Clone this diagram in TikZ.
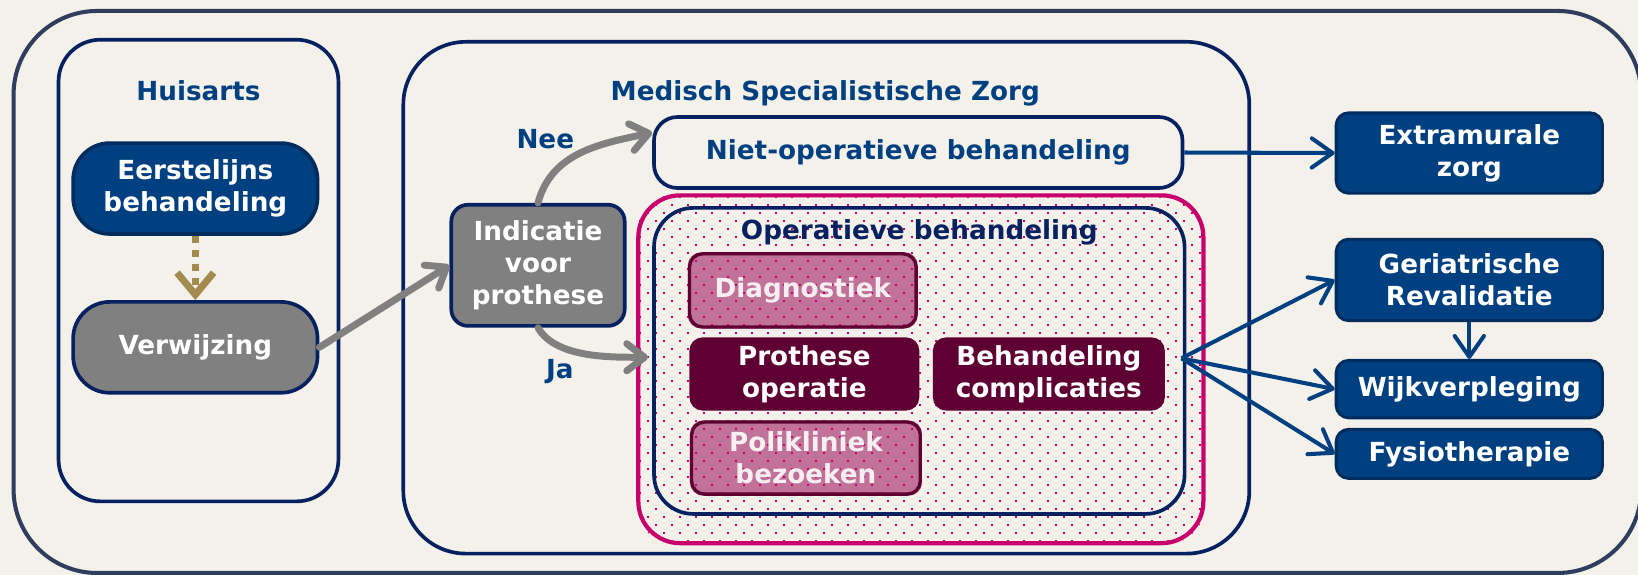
\documentclass[tikz,border=0pt]{standalone}
\usepackage{fontspec}
\setmainfont{DejaVu Sans}
\usetikzlibrary{arrows.meta,shapes}

\definecolor{cream}{RGB}{243,241,233}
\definecolor{slate}{RGB}{47,62,94}
\definecolor{framenavy}{RGB}{5,33,96}
\definecolor{boxnavy}{RGB}{0,64,128}
\definecolor{edgenavy}{RGB}{0,44,94}
\definecolor{midgray}{RGB}{128,128,128}
\definecolor{gold}{RGB}{163,139,79}
\definecolor{dotpink}{RGB}{200,0,110}
\definecolor{maroon}{RGB}{94,0,51}
\definecolor{rose}{RGB}{192,114,153}
\definecolor{offwhite}{RGB}{246,238,240}

\pgfdeclarelayer{back}
\pgfdeclarelayer{dots}
\pgfsetlayers{back,dots,main}

\tikzset{
  every node/.style={font=\fontsize{14.3}{17.5}\selectfont\bfseries,align=center},
  frame/.style={draw=framenavy,line width=2pt},
  title/.style={text=boxnavy},
  pill/.style={draw=framenavy,line width=2pt,text=white,rounded corners=0.7cm,
    minimum width=4.68cm,minimum height=1.74cm},
  navybox/.style={fill=boxnavy,draw=edgenavy,line width=1.6pt,text=white,
    rounded corners=0.24cm,minimum width=5.1cm},
  opbox/.style={rounded corners=0.25cm,minimum height=1.4cm},
  rosebox/.style={opbox,draw=maroon,line width=1.8pt,text=offwhite},
  grayarrow/.style={draw=midgray,line width=3.8pt,line cap=round,
    -{Straight Barb[length=0.34cm,width=0.52cm,round]}},
  navyarrow/.style={draw=boxnavy,line width=2.2pt,
    -{Straight Barb[length=0.4cm,width=0.56cm,round]}},
  goldarrow/.style={draw=gold,line width=3.8pt,dash pattern=on 3.8pt off 3.8pt,
    -{Straight Barb[length=0.42cm,width=0.7cm]}}
}

\begin{document}
\begin{tikzpicture}[x=0.02cm,y=0.02cm]
            \begin{pgfonlayer}{back}
              \fill[cream](0, 0) rectangle (1568, 550);
            \end{pgfonlayer}
            \useasboundingbox(0, 0) rectangle (1568, 550);
            \draw[slate,line width=2.2pt,rounded corners=1.6cm](13, 1.5) rectangle (1571, 539.5);
            % Huisarts
            \node[frame,rounded corners=0.8cm,minimum width=5.36cm,minimum height=8.84cm](Huis)at(190, 291){};
            \node[title](HuisTitle)at(190, 463){Huisarts};
            \node[pill,fill=boxnavy,draw=edgenavy](Eerst)at(187, 369.5){Eerstelijns\\behandeling};
            \node[pill,fill=midgray](Verw)at(187, 217.5){Verwijzing};
            % Medisch Specialistische Zorg
            \node[frame,rounded corners=1.2cm,minimum width=16.2cm,minimum height=9.8cm](Msz)at(791, 265){};
            \node[title](MszTitle)at(790, 461){Medisch Specialistische Zorg};
            \node[draw=framenavy,line width=2pt,fill=midgray,text=white,rounded corners=0.32cm,
              minimum width=3.32cm,minimum height=2.32cm](Indic)at(515, 296){Indicatie\\voor\\prothese};
            \node[frame,title,fill=cream,rounded corners=0.45cm,
              minimum width=10.12cm,minimum height=1.36cm](Niet)at(879, 404){Niet-operatieve behandeling};
            \node[draw=dotpink,line width=2.3pt,rounded corners=0.8cm,
              minimum width=10.82cm,minimum height=6.66cm](Pink)at(881.5, 196.5){};
            \node[frame,rounded corners=0.75cm,minimum width=10.16cm,minimum height=5.86cm](Inner)at(880, 204.5){};
            \node[text=framenavy](OpTitle)at(880, 328){Operatieve behandeling};
            \node[rosebox,minimum width=4.34cm](Diag)at(768.5, 272){Diagnostiek};
            \node[opbox,fill=maroon,text=white,minimum width=4.4cm](Proth)at(770, 192){Prothese\\operatie};
            \node[opbox,fill=maroon,text=white,minimum width=4.44cm](Compl)at(1004, 192){Behandeling\\complicaties};
            \node[rosebox,minimum width=4.38cm,minimum height=1.38cm](Poli)at(771.5, 111.5){Polikliniek\\bezoeken};
            % stippen achter de operatieve zorg
            \begin{pgfonlayer}{back}
              \fill[rose,rounded corners=0.25cm](Diag.south west) rectangle (Diag.north east);
              \fill[rose,rounded corners=0.25cm](Poli.south west) rectangle (Poli.north east);
            \end{pgfonlayer}
            \begin{pgfonlayer}{dots}
              \clip[rounded corners=0.8cm](Pink.south west) rectangle (Pink.north east);
              \foreach \y in {31,46.32,...,366}
                \foreach \x in {612,627.32,...,1156}{
                  \fill[dotpink](\x, \y) rectangle +(1.9, 1.9);
                  \fill[dotpink](\x+7.66, \y+7.66) rectangle +(1.9, 1.9);}
            \end{pgfonlayer}
            % extramuraal
            \node[navybox,minimum height=1.54cm](Extra)at(1406.5, 403.5){Extramurale\\zorg};
            \node[navybox,minimum height=1.56cm](Geri)at(1406.5, 282){Geriatrische\\Revalidatie};
            \node[navybox,minimum height=1.1cm](Wijk)at(1406.5, 177.5){Wijkverpleging};
            \node[navybox,minimum height=0.94cm](Fysio)at(1406.5, 115.5){Fysiotherapie};
            \node[title](Nee)at(522, 417){Nee};
            \node[title](Ja)at(536, 194){Ja};
            \coordinate(Split)at(1131, 207);
            \path(Eerst) edge[goldarrow] (Verw);
            \path(Verw.east) edge[grayarrow] (Indic.west)
            (Indic.north) edge[grayarrow,out=75,in=192] ([yshift=0.38cm]Niet.west)
            (Indic.south) edge[grayarrow,out=-60,in=180,looseness=0.8]
              ([xshift=-0.08cm,yshift=0.07cm]Inner.west);
            \path(Niet.east) edge[navyarrow] (Extra.west)
            (Geri) edge[navyarrow] (Wijk)
            (Split) edge[navyarrow] (Geri.west)
            (Split) edge[navyarrow] (Wijk.west)
            (Split) edge[navyarrow] (Fysio.west);
        \end{tikzpicture}
\end{document}
